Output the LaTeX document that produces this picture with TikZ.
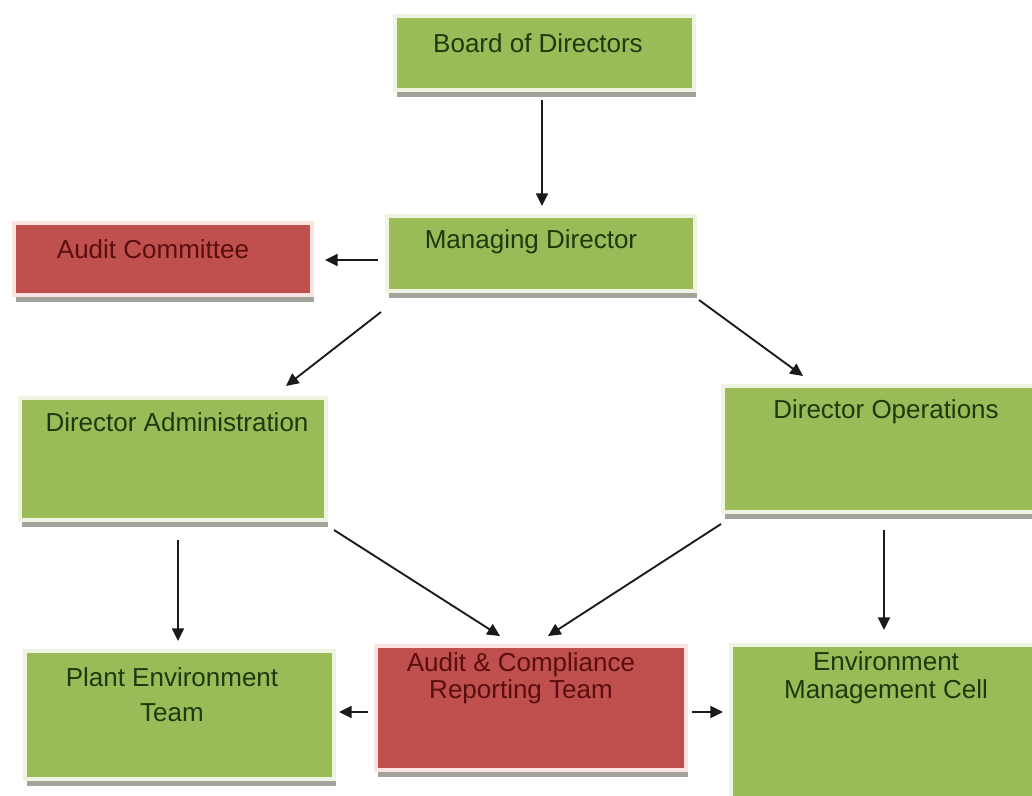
\documentclass[tikz,border=0pt]{standalone}
\usepackage{fontspec}
\setmainfont{Liberation Sans}
\usetikzlibrary{arrows.meta,shadows}
\definecolor{boxgreen}{HTML}{9BBB59}
\definecolor{boxred}{HTML}{C0504D}
\definecolor{palegreen}{HTML}{EEF3E2}
\definecolor{palered}{HTML}{FBE3E2}
\definecolor{shadowgray}{HTML}{A2A49C}
\definecolor{greentext}{HTML}{1E3A0C}
\definecolor{redtext}{HTML}{5A0E0E}
\definecolor{arrowcol}{HTML}{1A1A1A}
\tikzset{
  boxbase/.style={rectangle, line width=3pt, inner sep=0pt,
    drop shadow={shadow xshift=1.5pt, shadow yshift=-5pt, fill=shadowgray, opacity=1}},
  gbox/.style={boxbase, fill=boxgreen, draw=palegreen},
  rbox/.style={boxbase, fill=boxred, draw=palered},
  gtext/.style={inner sep=0pt, text=greentext, font=\fontsize{19.5pt}{26pt}\selectfont, align=center},
  rtext/.style={inner sep=0pt, text=redtext, font=\fontsize{19.5pt}{20.5pt}\selectfont, align=center},
  arr/.style={draw=arrowcol, line width=1.4pt, -{Triangle[length=9.5pt,width=9pt]}}
}
\begin{document}
\begin{tikzpicture}[x=0.75pt,y=-0.75pt]
\useasboundingbox (0,0) rectangle (1032,796);
\fill[white] (0,0) rectangle (1032,796);
% boxes (sizes in pt = px*0.75)
\node[gbox, minimum width=224.25pt, minimum height=55.5pt] (bod) at (544.5,53) {};
\node[gbox, minimum width=231pt, minimum height=56.25pt] (md) at (541,253.5) {};
\node[rbox, minimum width=223.5pt, minimum height=54pt] (ac) at (163,259) {};
\node[gbox, minimum width=229.5pt, minimum height=91.5pt] (da) at (173,459) {};
\node[gbox, minimum width=234.75pt, minimum height=94.5pt] (do) at (879.5,449) {};
\node[gbox, minimum width=231.75pt, minimum height=96pt] (pet) at (179.5,715) {};
\node[rbox, minimum width=232.5pt, minimum height=93pt] (acrt) at (531,708) {};
\node[gbox, minimum width=231.75pt, minimum height=125.25pt] (emc) at (885.5,728.5) {};
% texts
\node[gtext] (bodt) at (538,43) {Board of Directors};
\node[gtext] (mdt) at (531,242) {Managing Director};
\node[rtext] (act) at (153,249) {Audit Committee};
\node[gtext] (dat) at (177,422) {Director Administration};
\node[gtext] (dot) at (886,412) {Director Operations};
\node[gtext] (pett) at (172,695) {Plant Environment\\Team};
\node[rtext] (acrtt) at (521,678) {Audit \& Compliance\\Reporting Team};
\node[gtext, font=\fontsize{19.5pt}{21pt}\selectfont] (emct) at (886,678) {Environment\\Management Cell};
% connectors
\draw[arr] ([shift={(-2.5,8)}]bod.south) -- ([shift={(1,-8)}]md.north);
\draw[arr] ([shift={(-7,6.5)}]md.west) -- ([shift={(11,1)}]ac.east);
\draw[arr] ([shift={(-4,19)}]md.south west) -- ([shift={(268,-10)}]da.north west);
\draw[arr] ([shift={(2,7)}]md.south east) -- ([shift={(82,-8)}]do.north west);
\draw[arr] ([shift={(5,18)}]da.south) -- ([shift={(-1.5,-8)}]pet.north);
\draw[arr] ([shift={(6,8)}]da.south east) -- ([shift={(-31,-8)}]acrt.north);
\draw[arr] ([shift={(0,10)}]do.south west) -- ([shift={(17,-8)}]acrt.north);
\draw[arr] ([shift={(4.5,16)}]do.south) -- ([shift={(-1.5,-13)}]emc.north);
\draw[arr] ([shift={(-6,4)}]acrt.west) -- ([shift={(3,-3)}]pet.east);
\draw[arr] ([shift={(4,4)}]acrt.east) -- ([shift={(-6,-16.5)}]emc.west);
\end{tikzpicture}
\end{document}
